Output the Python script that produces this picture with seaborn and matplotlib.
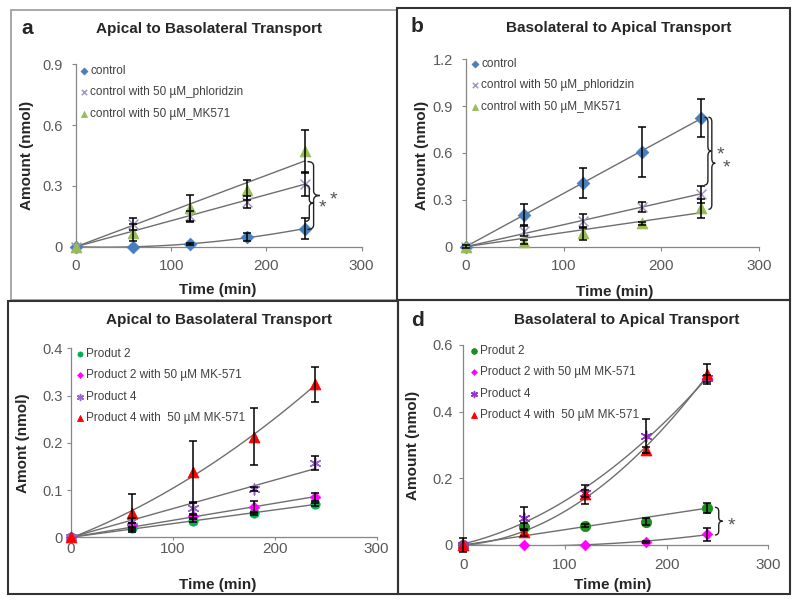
import numpy as np
import matplotlib
matplotlib.use("Agg")
import matplotlib.pyplot as plt
import seaborn as sns
from matplotlib.path import Path
from matplotlib.patches import PathPatch, Rectangle

# ==========================================================
# DATA
# ==========================================================

time = [0, 60, 120, 180, 240]

# panel a - apical to basolateral
a_control = [0, 0, 0.013, 0.046, 0.089]
a_control_err = [0, 0, 0.006, 0.02, 0.053]
a_phl = [0, 0.11, 0.15, 0.22, 0.31]
a_phl_err = [0, 0.03, 0.028, 0.03, 0.06]
a_mk = [0, 0.07, 0.19, 0.28, 0.47]
a_mk_err = [0, 0.04, 0.065, 0.05, 0.105]

# panel b - basolateral to apical
b_control = [0, 0.205, 0.41, 0.605, 0.825]
b_control_err = [0, 0.066, 0.095, 0.16, 0.12]
b_phl = [0, 0.10, 0.165, 0.255, 0.335]
b_phl_err = [0.01, 0.03, 0.045, 0.03, 0.053]
b_mk = [0, 0.03, 0.085, 0.15, 0.245]
b_mk_err = [0, 0.01, 0.04, 0.01, 0.06]

# panel c - apical to basolateral (products)
c_p2 = [0, 0.019, 0.035, 0.051, 0.070]
c_p2_err = [0, 0.003, 0.003, 0.003, 0.003]
c_p2mk = [0, 0.025, 0.045, 0.064, 0.085]
c_p2mk_err = [0, 0.005, 0.005, 0.013, 0.008]
c_p4 = [0, 0.035, 0.061, 0.102, 0.157]
c_p4_err = [0, 0.005, 0.013, 0.004, 0.015]
c_p4mk = [0, 0.051, 0.138, 0.213, 0.324]
c_p4mk_err = [0, 0.04, 0.066, 0.061, 0.037]

# panel d - basolateral to apical (products)
d_p2 = [0, 0.055, 0.058, 0.070, 0.112]
d_p2_err = [0.02, 0.01, 0.004, 0.01, 0.015]
d_p2mk = [0, 0, 0, 0.01, 0.032]
d_p2mk_err = [0, 0, 0, 0.003, 0.02]
d_p4 = [0, 0.08, 0.155, 0.327, 0.50]
d_p4_err = [0, 0.035, 0.01, 0.05, 0.01]
d_p4mk = [0, 0.038, 0.152, 0.285, 0.513]
d_p4mk_err = [0, 0.01, 0.028, 0.01, 0.03]

ctrl_labels = ["control", "control with 50 \u00b5M_phloridzin", "control with 50 \u00b5M_MK571"]
prod_labels = ["Produt 2", "Product 2 with 50 \u00b5M MK-571", "Product 4",
               "Product 4 with  50 \u00b5M MK-571"]

a_yticks = [0, 0.3, 0.6, 0.9]
a_yticklabels = ["0", "0.3", "0.6", "0.9"]
b_yticks = [0, 0.3, 0.6, 0.9, 1.2]
b_yticklabels = ["0", "0.3", "0.6", "0.9", "1.2"]
c_yticks = [0, 0.1, 0.2, 0.3, 0.4]
c_yticklabels = ["0", "0.1", "0.2", "0.3", "0.4"]
d_yticks = [0, 0.2, 0.4, 0.6]
d_yticklabels = ["0", "0.2", "0.4", "0.6"]
xticks = [0, 100, 200, 300]

# ==========================================================
# STYLE
# ==========================================================

sns.set_style("ticks")
plt.rcParams['font.family'] = ['Liberation Sans', 'DejaVu Sans']

fig = plt.figure(figsize=(8, 6.03), dpi=100)


def fx(x):
    return x / 800


def fy(y):
    return 1 - y / 603


def make_axes(x0, x1, y0, y1):
    return fig.add_axes([fx(x0), fy(y0), fx(x1) - fx(x0), fy(y1) - fy(y0)])


def trend(y, kind):
    x = np.asarray(time, float)
    y = np.asarray(y, float)
    xx = np.linspace(0, 240, 120)
    if kind == "lin0":
        k = np.sum(x * y) / np.sum(x * x)
        return xx, k * xx
    c = np.polyfit(x, y, 2)
    return xx, np.polyval(c, xx)


def brace(ax, x, ylo, yhi, w, h):
    ym = (ylo + yhi) / 2
    xm = x + w / 2
    verts = [(x, yhi), (xm, yhi), (xm, yhi - h), (xm, ym + h), (xm, ym), (x + w, ym),
             (xm, ym), (xm, ym - h), (xm, ylo + h), (xm, ylo), (x, ylo)]
    codes = [Path.MOVETO, Path.CURVE3, Path.CURVE3, Path.LINETO, Path.CURVE3, Path.CURVE3,
             Path.CURVE3, Path.CURVE3, Path.LINETO, Path.CURVE3, Path.CURVE3]
    ax.add_patch(PathPatch(Path(verts, codes), fill=False, color="#222222", lw=1.0,
                           clip_on=False, zorder=5))


def draw_panel(ax, series, yticks, yticklabels, xpad, xlen, ypad):
    for s in series:
        xx, yy = trend(s["y"], s["fit"])
        ax.plot(xx, yy, color="#6e6e6e", lw=1.0, zorder=2)
    for s in series:
        kws = dict(marker=s["marker"], color=s["color"], s=s["size"], label=s["label"],
                   ax=ax, zorder=3, clip_on=False)
        if s["marker"] in ("x", (6, 2, 0)):
            kws["linewidth"] = 1.1
        else:
            kws["edgecolor"] = s["color"]
        sns.scatterplot(x=time, y=s["y"], **kws)
        err = np.asarray(s["err"], float)
        keep = err > 0
        ax.errorbar(np.asarray(time)[keep], np.asarray(s["y"])[keep], yerr=err[keep],
                    fmt="none", ecolor="black", elinewidth=1.1, capsize=3, capthick=1.1,
                    zorder=4, clip_on=False)
    ax.set_xlim(0, 300)
    ax.set_xticks(xticks)
    ax.set_ylim(0, yticks[-1])
    ax.set_yticks(yticks)
    ax.set_yticklabels(yticklabels)
    sns.despine(ax=ax)
    for sp in ["left", "bottom"]:
        ax.spines[sp].set_color("#868686")
        ax.spines[sp].set_linewidth(0.9)
    ax.tick_params(axis="x", direction="out", length=xlen, width=0.8, color="#868686",
                   labelcolor="#595959", labelsize=11, pad=xpad)
    ax.tick_params(axis="y", direction="out", length=3, width=0.8, color="#868686",
                   labelcolor="#595959", labelsize=10.5, pad=ypad)


def finish(ax, ylabel, ylab_xy, xlab_xy, leg_xy):
    ax.set_xlabel("Time (min)", fontsize=11, fontweight="bold")
    ax.set_ylabel(ylabel, fontsize=11, fontweight="bold")
    ax.xaxis.set_label_coords(fx(xlab_xy[0]), fy(xlab_xy[1]), transform=fig.transFigure)
    ax.yaxis.set_label_coords(fx(ylab_xy[0]), fy(ylab_xy[1]), transform=fig.transFigure)
    ax.xaxis.label.set_va("center")
    ax.yaxis.label.set_va("center")
    ax.legend(loc="upper left", bbox_to_anchor=(fx(leg_xy[0]), fy(leg_xy[1])),
              bbox_transform=fig.transFigure, frameon=False, fontsize=8.5,
              handlelength=0.6, handletextpad=0.25, labelspacing=0.8, borderpad=0,
              borderaxespad=0, markerscale=0.55, labelcolor="#404040")


# ==========================================================
# PANEL BORDERS
# ==========================================================

for (x0, y0, x1, y1, col, lw) in [(11, 10, 397, 300, "#9a9a9a", 1.2),
                                  (397, 8, 790, 300, "#333333", 1.5),
                                  (8, 301, 398, 594, "#333333", 1.5),
                                  (398, 300, 790, 594, "#333333", 1.5)]:
    fig.add_artist(Rectangle((fx(x0), fy(y1)), fx(x1) - fx(x0), fy(y0) - fy(y1),
                             transform=fig.transFigure, fill=False, edgecolor=col, lw=lw))

# ==========================================================
# PANEL A
# ==========================================================

ax_a = make_axes(76, 361.7, 246.7, 64.3)
series_a = [
    dict(label=ctrl_labels[0], y=a_control, err=a_control_err, color="#4a7ebb", marker="D", size=42, fit="poly2"),
    dict(label=ctrl_labels[1], y=a_phl, err=a_phl_err, color="#a396c8", marker="x", size=50, fit="lin0"),
    dict(label=ctrl_labels[2], y=a_mk, err=a_mk_err, color="#9bbb59", marker="^", size=60, fit="lin0"),
]
draw_panel(ax_a, series_a, a_yticks, a_yticklabels, 6, 3, 6.3)
finish(ax_a, "Amount (nmol)", (27, 155), (218, 290), (80, 65))
brace(ax_a, 243, 0.085, 0.42, 13, 0.022)
brace(ax_a, 240.5, 0.125, 0.305, 9, 0.018)
ax_a.text(259, 0.19, "*", fontsize=14, color="#555555", ha="center", va="center", clip_on=False)
ax_a.text(270, 0.23, "*", fontsize=14, color="#555555", ha="center", va="center", clip_on=False)

# ==========================================================
# PANEL B
# ==========================================================

ax_b = make_axes(465.7, 759.3, 246.7, 59.3)
series_b = [
    dict(label=ctrl_labels[0], y=b_control, err=b_control_err, color="#4a7ebb", marker="D", size=42, fit="lin0"),
    dict(label=ctrl_labels[1], y=b_phl, err=b_phl_err, color="#a396c8", marker="x", size=50, fit="lin0"),
    dict(label=ctrl_labels[2], y=b_mk, err=b_mk_err, color="#9bbb59", marker="^", size=60, fit="lin0"),
]
draw_panel(ax_b, series_b, b_yticks, b_yticklabels, 6, 3, 6.3)
finish(ax_b, "Amount (nmol)", (422, 155), (615, 292), (471, 58))
brace(ax_b, 244, 0.395, 0.829, 7, 0.03)
brace(ax_b, 248, 0.239, 0.829, 7, 0.03)
ax_b.text(260, 0.585, "*", fontsize=14, color="#555555", ha="center", va="center", clip_on=False)
ax_b.text(266, 0.505, "*", fontsize=14, color="#555555", ha="center", va="center", clip_on=False)

# ==========================================================
# PANEL C
# ==========================================================

ax_c = make_axes(70.7, 376.7, 537.3, 348.3)
series_c = [
    dict(label=prod_labels[0], y=c_p2, err=c_p2_err, color="#00b050", marker="o", size=45, fit="lin0"),
    dict(label=prod_labels[1], y=c_p2mk, err=c_p2mk_err, color="#ff00ff", marker="D", size=30, fit="lin0"),
    dict(label=prod_labels[2], y=c_p4, err=c_p4_err, color="#9966cc", marker=(6, 2, 0), size=60, fit="lin0"),
    dict(label=prod_labels[3], y=c_p4mk, err=c_p4mk_err, color="#ff0000", marker="^", size=60, fit="poly2"),
]
draw_panel(ax_c, series_c, c_yticks, c_yticklabels, 1.5, 2, 2.7)
finish(ax_c, "Amont (nmol)", (23, 443), (218, 585), (76, 348))

# ==========================================================
# PANEL D
# ==========================================================

ax_d = make_axes(463.3, 768.3, 545, 345)
series_d = [
    dict(label=prod_labels[0], y=d_p2, err=d_p2_err, color="#1e8c1e", marker="o", size=55, fit="lin0"),
    dict(label=prod_labels[1], y=d_p2mk, err=d_p2mk_err, color="#ff00ff", marker="D", size=30, fit="poly2"),
    dict(label=prod_labels[2], y=d_p4, err=d_p4_err, color="#9933cc", marker=(6, 2, 0), size=60, fit="poly2"),
    dict(label=prod_labels[3], y=d_p4mk, err=d_p4mk_err, color="#ff0000", marker="^", size=60, fit="poly2"),
]
draw_panel(ax_d, series_d, d_yticks, d_yticklabels, 6.7, 3, 4.9)
finish(ax_d, "Amount (nmol)", (413, 445), (613, 585), (470, 345))
brace(ax_d, 247.5, 0.03, 0.113, 7.5, 0.012)
ax_d.text(264, 0.058, "*", fontsize=14, color="#555555", ha="center", va="center", clip_on=False)

# ==========================================================
# TITLES AND PANEL LETTERS
# ==========================================================

fig.text(fx(209), fy(29), "Apical to Basolateral Transport", fontsize=11, fontweight="bold", ha="center", va="center")
fig.text(fx(619), fy(28), "Basolateral to Apical Transport", fontsize=11, fontweight="bold", ha="center", va="center")
fig.text(fx(219), fy(320), "Apical to Basolateral Transport", fontsize=11, fontweight="bold", ha="center", va="center")
fig.text(fx(627), fy(320), "Basolateral to Apical Transport", fontsize=11, fontweight="bold", ha="center", va="center")

fig.text(fx(27), fy(29), "a", fontsize=15, fontweight="bold", ha="center", va="center")
fig.text(fx(417), fy(27), "b", fontsize=15, fontweight="bold", ha="center", va="center")
fig.text(fx(417), fy(321), "d", fontsize=15, fontweight="bold", ha="center", va="center")

fig.savefig("out.png", dpi=100)
